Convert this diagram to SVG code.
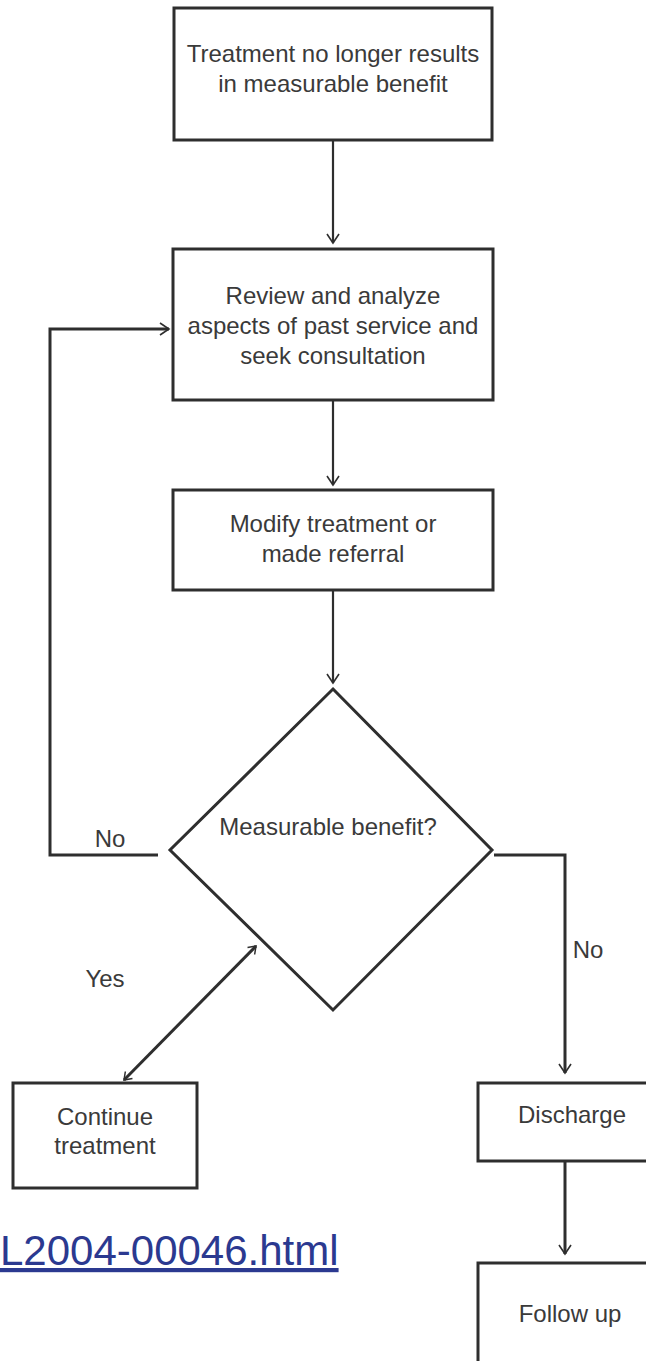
<svg xmlns="http://www.w3.org/2000/svg" width="646" height="1361" viewBox="0 0 646 1361">
  <style>
    .box { fill: #ffffff; stroke: #2e2e2e; stroke-width: 3; }
    .lbl { font-family: "Liberation Sans", Arial, sans-serif; font-size: 24px; fill: #3a3a3a; text-anchor: middle; }
    .edge { fill: none; stroke: #2e2e2e; stroke-width: 2.2; }
    .thick { fill: none; stroke: #2e2e2e; stroke-width: 3; }
    .link { font-family: "Liberation Sans", Arial, sans-serif; font-size: 42px; fill: #2b3990; text-decoration: underline; }
  </style>
  <defs>
    <marker id="arr" viewBox="-10 -8 12 16" markerWidth="12" markerHeight="16" refX="0" refY="0" orient="auto-start-reverse" markerUnits="userSpaceOnUse">
      <path d="M-9,-6 L0,0 L-9,6" fill="none" stroke="#2e2e2e" stroke-width="1.6"/>
    </marker>
    <marker id="arrs" viewBox="-10 -8 12 16" markerWidth="12" markerHeight="16" refX="0" refY="0" orient="auto-start-reverse" markerUnits="userSpaceOnUse">
      <path d="M-7,-5 L0,0 L-7,5" fill="none" stroke="#2e2e2e" stroke-width="1.5"/>
    </marker>
  </defs>
  <rect width="646" height="1361" fill="#ffffff"/>

  <g id="connectors">
    <path class="edge" d="M333,140 L333,243" marker-end="url(#arr)"/>
    <path class="edge" d="M333,400 L333,485" marker-end="url(#arr)"/>
    <path class="edge" d="M333,590 L333,683" marker-end="url(#arr)"/>
    <path class="thick" d="M158,855 L50,855 L50,329 L169,329" marker-end="url(#arr)"/>
    <path class="thick" d="M494,855 L565,855 L565,1073" marker-end="url(#arr)"/>
    <path class="thick" d="M565,1161 L565,1254" stroke-width="3.5" marker-end="url(#arr)"/>
    <path class="thick" d="M256,946 L124,1080" stroke-width="4" marker-start="url(#arrs)" marker-end="url(#arrs)"/>
    <text class="lbl" x="110" y="847" font-size="22">No</text>
    <text class="lbl" x="105" y="987">Yes</text>
    <text class="lbl" x="588" y="958" font-size="22">No</text>
  </g>

  <g id="node-start">
    <rect class="box" x="174" y="8" width="318" height="132"/>
    <text class="lbl" x="333" y="62">Treatment no longer results</text>
    <text class="lbl" x="333" y="92">in measurable benefit</text>
  </g>

  <g id="node-review">
    <rect class="box" x="173" y="249" width="320" height="151"/>
    <text class="lbl" x="333" y="304">Review and analyze</text>
    <text class="lbl" x="333" y="334">aspects of past service and</text>
    <text class="lbl" x="333" y="364">seek consultation</text>
  </g>

  <g id="node-modify">
    <rect class="box" x="173" y="490" width="320" height="100"/>
    <text class="lbl" x="333" y="532">Modify treatment or</text>
    <text class="lbl" x="333" y="562">made referral</text>
  </g>

  <g id="node-decision">
    <polygon class="box" points="333,689 492,850 333,1010 170,850"/>
    <text class="lbl" x="328" y="835">Measurable benefit?</text>
  </g>

  <g id="node-continue">
    <rect class="box" x="13" y="1083" width="184" height="105"/>
    <text class="lbl" x="105" y="1125">Continue</text>
    <text class="lbl" x="105" y="1154">treatment</text>
  </g>

  <g id="node-discharge">
    <rect class="box" x="478" y="1083" width="180" height="78"/>
    <text class="lbl" x="572" y="1123">Discharge</text>
  </g>

  <g id="node-followup">
    <rect class="box" x="478" y="1263" width="180" height="110"/>
    <text class="lbl" x="570" y="1322">Follow up</text>
  </g>

  <text class="link" x="0" y="1265">L2004-00046.html</text>
</svg>
